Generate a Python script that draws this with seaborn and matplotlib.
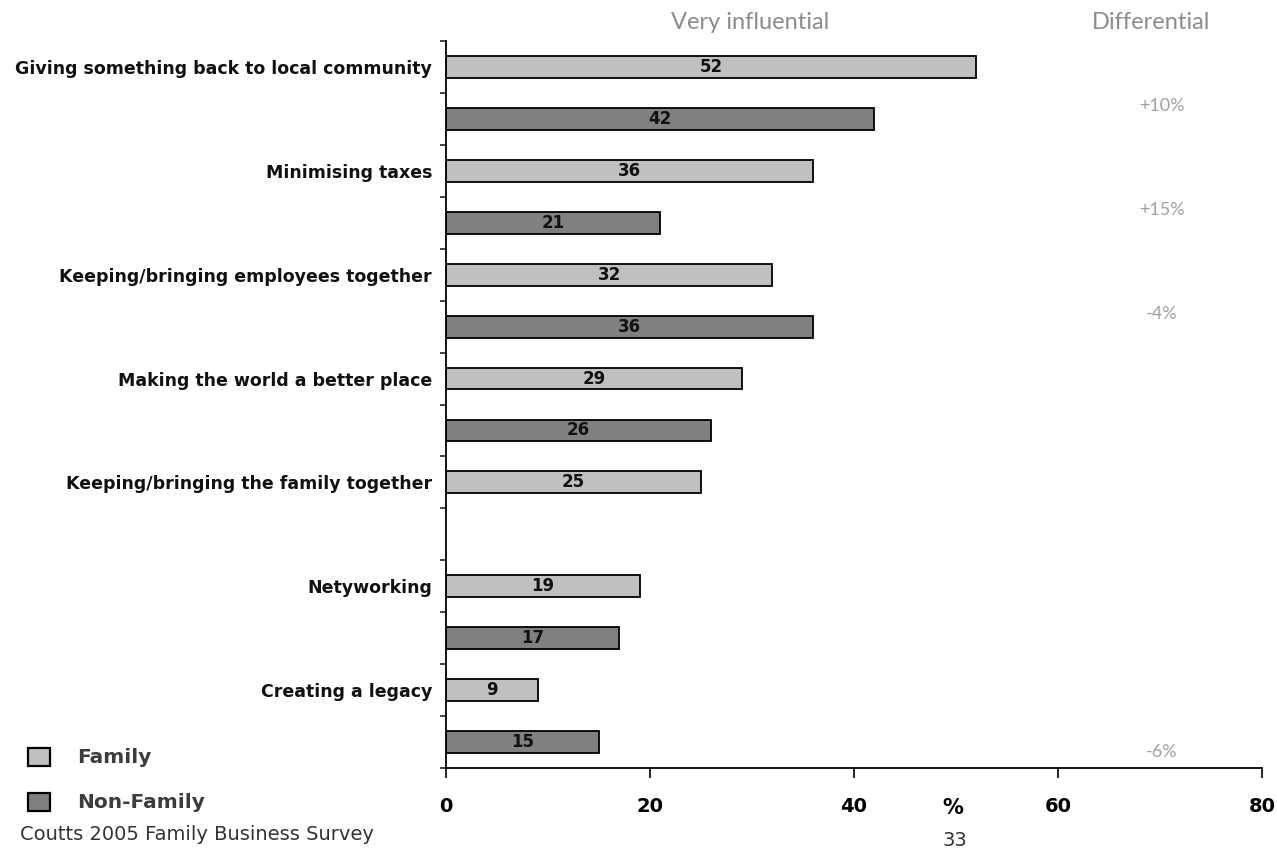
import numpy as np
import pandas as pd
import matplotlib
matplotlib.use("Agg")
import matplotlib.pyplot as plt
import seaborn as sns
from matplotlib.patches import Patch
import matplotlib.transforms as mtransforms

# ---- data ----
categories = [
    "Giving something back to local community",
    "Minimising taxes",
    "Keeping/bringing employees together",
    "Making the world a better place",
    "Keeping/bringing the family together",
    "Netyworking",
    "Creating a legacy",
]
groups = ["Family", "Non-Family"]
family = [52, 36, 32, 29, 25, 19, 9]
non_family = [42, 21, 36, 26, np.nan, 17, 15]
differentials = ["+10%", "+15%", "-4%", "", "", "", "-6%"]
xticks = [0, 20, 40, 60, 80]

colors = {"Family": "#C0C0C0", "Non-Family": "#808080"}

# long-format table, one row per bar slot
rows = []
for i, cat in enumerate(categories):
    rows.append({"slot": f"{cat}|Family", "group": "Family", "value": family[i]})
    rows.append({"slot": f"{cat}|Non-Family", "group": "Non-Family", "value": non_family[i]})
df = pd.DataFrame(rows)
order = list(df["slot"])

sns.set_style("white")
plt.rcParams["font.family"] = ["DejaVu Sans"]

fig = plt.figure(figsize=(12.77, 8.5), dpi=100)
ax = fig.add_axes([446 / 1277, 1 - 768 / 850, (1262 - 446) / 1277, (768 - 41) / 850])

sns.barplot(data=df, x="value", y="slot", hue="group", order=order,
            hue_order=groups, palette=colors, dodge=False, width=0.42,
            edgecolor="black", linewidth=1.3, orient="h", legend=False, ax=ax)

for cont in ax.containers:
    ax.bar_label(cont, fmt="%g", label_type="center", fontsize=12,
                 fontweight="bold", color="#111111")

ax.set_xlim(0, 80)
ax.set_ylim(len(order) - 0.5, -0.5)
ax.set_xlabel("")
ax.set_ylabel("")

# x axis
ax.set_xticks(xticks)
ax.set_xticklabels([str(t) for t in xticks], fontsize=14, fontweight="bold")
ax.tick_params(axis="x", direction="out", length=7, width=1.2, pad=14,
               colors="black", bottom=True)

# y axis: major ticks at slot boundaries, labels on minor ticks at family slots
ax.set_yticks(np.arange(-0.5, len(order), 1.0))
ax.set_yticklabels([])
ax.tick_params(axis="y", which="major", direction="out", length=4, width=1.2, left=True)
ax.set_yticks(np.arange(0, len(order), 2), minor=True)
ax.set_yticklabels(categories, minor=True, fontsize=12.5, fontweight="bold", color="#111111")
ax.tick_params(axis="y", which="minor", length=0, pad=10)

for s in ["top", "right"]:
    ax.spines[s].set_visible(False)
for s in ["left", "bottom"]:
    ax.spines[s].set_linewidth(1.3)
    ax.spines[s].set_color("black")

# headers
trans = mtransforms.blended_transform_factory(ax.transData, ax.transAxes)
ax.text(29.8, 1.026, "Very influential", transform=trans, ha="center", va="center",
        fontsize=17, color="#8c8c8c", family="Lato")
ax.text(69.1, 1.026, "Differential", transform=trans, ha="center", va="center",
        fontsize=17, color="#8c8c8c", family="Lato")

# differentials
for i, d in enumerate(differentials):
    if d:
        yoff = 1.2 if i == len(differentials) - 1 else 0.75
        ax.text(70.2, 2 * i + yoff, d, ha="center", va="center", fontsize=13,
                color="#a0a0a0", family="Lato")

# % label
ax.text(49.7, -0.055, "%", transform=trans, ha="center", va="center",
        fontsize=15, fontweight="bold", color="black")

# legend
handles = [Patch(facecolor=colors[g], edgecolor="black", linewidth=1.6, label=g) for g in groups]
fig.legend(handles=handles, loc="center left", bbox_to_anchor=(0.008, 1 - 780 / 850),
           frameon=False, prop={"weight": "bold", "size": 14.5},
           handlelength=1.1, handleheight=1.0, labelspacing=1.25, handletextpad=1.3,
           labelcolor="#3c3c3c")

fig.text(20 / 1277, 1 - 835 / 850, "Coutts 2005 Family Business Survey", ha="left",
         va="center", fontsize=14, color="#333333")
fig.text(955 / 1277, 1 - 840 / 850, "33", ha="center", va="center", fontsize=14,
         color="#333333")

fig.savefig("out.png", dpi=100)
